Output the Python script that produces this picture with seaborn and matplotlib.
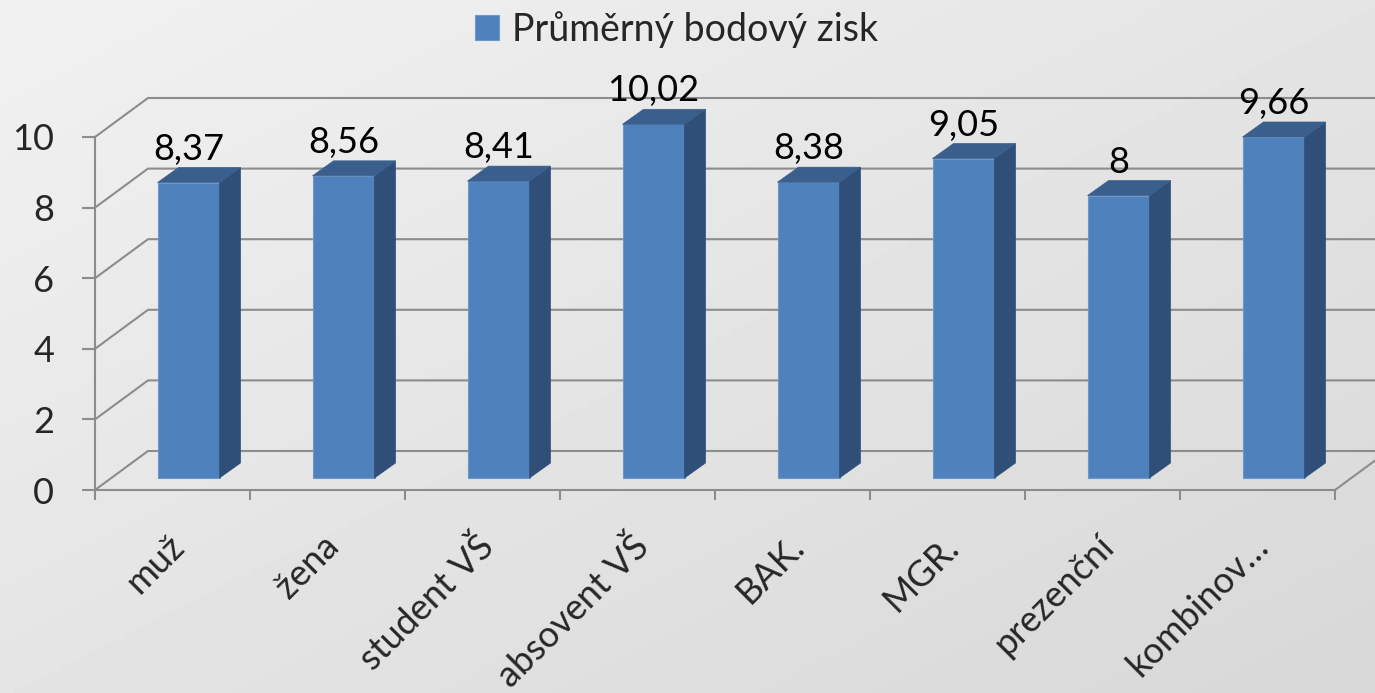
import numpy as np
import pandas as pd
import matplotlib.pyplot as plt
import seaborn as sns
from matplotlib.patches import Polygon

# Data
categories = ["muž", "žena", "student VŠ", "absovent VŠ", "BAK.", "MGR.", "prezenční", "kombinov…"]
scores = [8.37, 8.56, 8.41, 10.02, 8.38, 9.05, 8, 9.66]
y_ticks = [0, 2, 4, 6, 8, 10]
series_name = "Průměrný bodový zisk"

df = pd.DataFrame({"skupina": categories, "zisk": scores})

sns.set_style("white")
plt.rcParams['font.family'] = ['Lato', 'DejaVu Sans']

FRONT = '#4F81BD'
SIDE = '#304F78'
TOP = '#3A5F8C'
GRID = '#8C8C8C'
FS = 26

# pixel sizes of one category / one unit, used to convert 3D offsets
PX_X = 155.0
PX_Y = 35.3
fx, fy = 16 / PX_X, 12 / PX_Y      # bar front face offset from the front plane
dx, dy = 21 / PX_X, 15 / PX_Y      # bar depth
wx, wy = 53 / PX_X, 39 / PX_Y      # back wall offset

fig = plt.figure(figsize=(13.75, 6.93), dpi=100)

# gradient background
bg = fig.add_axes([0, 0, 1, 1], zorder=-10)
xx, yy = np.meshgrid(np.linspace(0, 1, 300), np.linspace(0, 1, 150))
grad = 0.945 - 0.10 * (xx + yy) / 2
bg.imshow(grad, cmap='gray', vmin=0, vmax=1, aspect='auto', extent=[0, 1, 0, 1], origin='upper')
bg.axis('off')

ax = fig.add_axes([95 / 1375, 203 / 693, 1240 / 1375, 353 / 693])
ax.patch.set_alpha(0)

sns.barplot(data=df, x='skupina', y='zisk', color=FRONT, saturation=1, width=0.4,
            ax=ax, label=series_name, zorder=3)
ax.set_xlim(-0.5, 7.5)
ax.set_ylim(0, 10)

# back wall gridlines
for v in y_ticks:
    ax.plot([-0.5, -0.5 + wx, 8.5], [v, v + wy, v + wy], color=GRID, lw=1.5,
            clip_on=False, zorder=1)
# floor right edge
ax.plot([7.5, 7.5 + wx], [0, wy], color=GRID, lw=1.5, clip_on=False, zorder=1)

# 3D sides, tops and value labels
for p, v in zip(ax.patches, scores):
    x0 = p.get_x() + fx
    w = p.get_width()
    h = p.get_height()
    p.set_xy((x0, fy))
    p.set_edgecolor('#6E98CA')
    p.set_linewidth(0.8)
    p.set_clip_on(False)
    x1 = x0 + w
    side = Polygon([(x1, fy), (x1, h + fy), (x1 + dx, h + fy + dy), (x1 + dx, fy + dy)],
                   closed=True, facecolor=SIDE, edgecolor=SIDE, lw=0.5, zorder=3, clip_on=False)
    top = Polygon([(x0, h + fy), (x1, h + fy), (x1 + dx, h + fy + dy), (x0 + dx, h + fy + dy)],
                  closed=True, facecolor=TOP, edgecolor=TOP, lw=0.5, zorder=3, clip_on=False)
    ax.add_patch(side)
    ax.add_patch(top)
    lbl = f"{v:g}".replace('.', ',')
    ax.text(x0 + w / 2, h + fy + dy + 2 / PX_Y, lbl, ha='center', va='bottom',
            fontsize=FS, color='black', zorder=5)

# axes styling
for s in ['top', 'right']:
    ax.spines[s].set_visible(False)
for s in ['left', 'bottom']:
    ax.spines[s].set_color(GRID)
    ax.spines[s].set_linewidth(1.5)

ax.set_yticks(y_ticks)
ax.set_yticklabels([str(t) for t in y_ticks], fontsize=FS)
ax.tick_params(axis='y', left=True, length=9.4, width=1.5, color=GRID, pad=20)

ax.set_xticks(np.arange(-0.5, 8, 1), minor=True)
ax.set_xticks(range(len(categories)))
ax.tick_params(axis='x', which='major', bottom=False, labelbottom=False)
ax.tick_params(axis='x', which='minor', bottom=True, length=7, width=1.5, color=GRID)
ax.set_xlabel('')
ax.set_ylabel('')

for i, cat in enumerate(categories):
    ax.text(i + 6 / PX_X, -51 / PX_Y, cat, rotation=45, ha='right', va='center',
            rotation_mode='anchor', fontsize=FS, clip_on=False)

# legend
leg = ax.get_legend()
if leg is not None:
    leg.remove()
handles, labels = ax.get_legend_handles_labels()
fig.legend(handles[:1], labels[:1], loc='center', bbox_to_anchor=(0.492, 0.958), frameon=False,
           fontsize=27, handlelength=0.65, handleheight=0.65, handletextpad=0.35)

fig.savefig('out.png', dpi=100)
